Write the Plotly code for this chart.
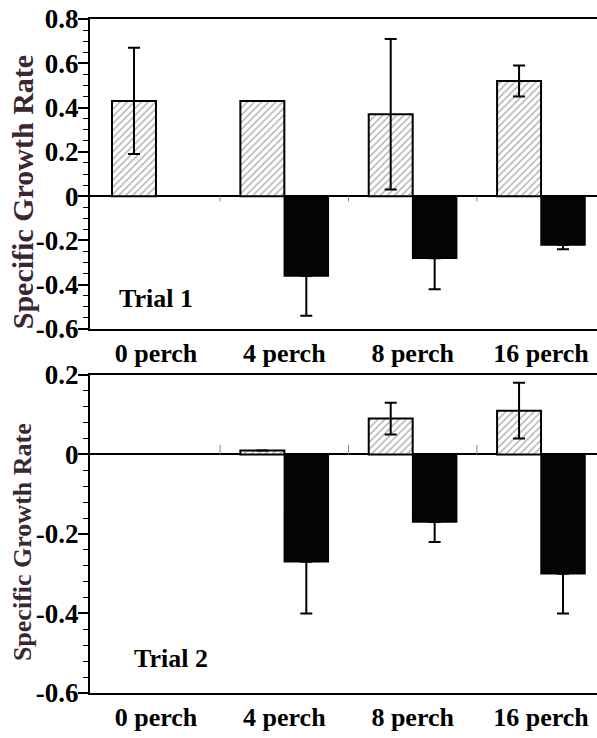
import plotly.graph_objects as go

# Growth rate by perch density, two trials
categories = ["0 perch", "4 perch", "8 perch", "16 perch"]

t1_hatched = [0.43, 0.43, 0.37, 0.52]
t1_hatched_err = [0.24, None, 0.34, 0.07]
t1_black = [None, -0.36, -0.28, -0.22]
t1_black_err = [None, 0.18, 0.14, 0.02]

t2_hatched = [None, 0.01, 0.09, 0.11]
t2_hatched_err = [None, None, 0.04, 0.07]
t2_black = [None, -0.27, -0.17, -0.30]
t2_black_err = [None, 0.13, 0.05, 0.10]

t1_tickvals = [0.8, 0.6, 0.4, 0.2, 0, -0.2, -0.4, -0.6]
t1_ticktext = ["0.8", "0.6", "0.4", "0.2", "0", "-0.2", "-0.4", "-0.6"]
t2_tickvals = [0.2, 0, -0.2, -0.4, -0.6]
t2_ticktext = ["0.2", "0", "-0.2", "-0.4", "-0.6"]

SERIF = "Liberation Serif, Times New Roman, serif"
TITLE_COLOR = "#3a2731"


def hatched_bar(y, err, xa, ya):
    return go.Bar(
        x=categories, y=y, xaxis=xa, yaxis=ya, offsetgroup="h",
        marker=dict(color="white",
                    pattern=dict(shape="/", fgcolor="#555555", bgcolor="white",
                                 size=5, solidity=0.28),
                    line=dict(color="black", width=2)),
        error_y=dict(type="data", array=err, visible=True, color="black",
                     thickness=2, width=6),
        showlegend=False)


def black_bar(y, err, xa, ya):
    # only the downward whisker shows outside a solid bar
    return go.Bar(
        x=categories, y=y, xaxis=xa, yaxis=ya, offsetgroup="b",
        marker=dict(color="#050505", line=dict(color="black", width=1.5)),
        error_y=dict(type="data", symmetric=False,
                     array=[0 if e is not None else None for e in err],
                     arrayminus=err, visible=True, color="black",
                     thickness=2, width=6),
        showlegend=False)


fig = go.Figure([
    hatched_bar(t1_hatched, t1_hatched_err, "x", "y"),
    black_bar(t1_black, t1_black_err, "x", "y"),
    hatched_bar(t2_hatched, t2_hatched_err, "x2", "y2"),
    black_bar(t2_black, t2_black_err, "x2", "y2"),
])

x_common = dict(
    type="category", range=[-0.514, 3.436], showline=True, mirror=True,
    linecolor="black", linewidth=2, ticks="", showgrid=False, zeroline=False,
    tickfont=dict(family=SERIF, size=26, color="black", weight="bold"),
    fixedrange=True,
)


def y_common(tv, tt, minor_step):
    return dict(
        tickvals=tv, ticktext=tt, showline=True, linecolor="black", linewidth=2,
        ticks="outside", ticklen=10, tickwidth=1.5, tickcolor="black",
        ticklabelstandoff=-6,
        minor=dict(dtick=minor_step, tick0=0, ticks="outside", ticklen=5,
                   tickwidth=1, tickcolor="black"),
        showgrid=False, zeroline=True, zerolinecolor="black", zerolinewidth=2,
        tickfont=dict(family=SERIF, size=27, color="black", weight="bold"),
        fixedrange=True,
    )


fig.update_layout(
    width=597, height=738,
    margin=dict(l=90, r=0, t=19, b=45),
    paper_bgcolor="white", plot_bgcolor="white",
    barmode="group", bargap=0.315, bargroupgap=0,
    xaxis=dict(x_common, domain=[0, 1], anchor="y"),
    yaxis=dict(y_common(t1_tickvals, t1_ticktext, 0.05),
               range=[-0.6, 0.8], domain=[0.54, 1], anchor="x"),
    xaxis2=dict(x_common, domain=[0, 1], anchor="y2"),
    yaxis2=dict(y_common(t2_tickvals, t2_ticktext, 0.04),
                range=[-0.6, 0.2], domain=[0, 0.472], anchor="x2"),
)

# small category-boundary marks on the zero line
for b in [0.5, 1.5, 2.5]:
    fig.add_shape(type="line", xref="x", yref="y", x0=b, x1=b, y0=0, y1=-0.024,
                  line=dict(color="#888888", width=1))
    fig.add_shape(type="line", xref="x2", yref="y2", x0=b, x1=b, y0=0, y1=0.024,
                  line=dict(color="#888888", width=1))

# panel labels
fig.add_annotation(text="<b>Trial 1</b>", xref="x", yref="y", x=0, y=-0.46,
                   xanchor="center", yanchor="middle", showarrow=False,
                   font=dict(family=SERIF, size=26, color="black"))
fig.add_annotation(text="<b>Trial 2</b>", xref="x2", yref="y2", x=0.12, y=-0.513,
                   xanchor="center", yanchor="middle", showarrow=False,
                   font=dict(family=SERIF, size=26, color="black"))

# y-axis titles
fig.add_annotation(text="<b>Specific Growth Rate</b>", xref="paper", yref="paper",
                   x=-0.134, y=0.743, xanchor="center", yanchor="middle",
                   textangle=-90, showarrow=False,
                   font=dict(family=SERIF, size=30, color=TITLE_COLOR))
fig.add_annotation(text="<b>Specific Growth Rate</b>", xref="paper", yref="paper",
                   x=-0.134, y=0.224, xanchor="center", yanchor="middle",
                   textangle=-90, showarrow=False,
                   font=dict(family=SERIF, size=26, color=TITLE_COLOR))

fig.write_html("out.html")
